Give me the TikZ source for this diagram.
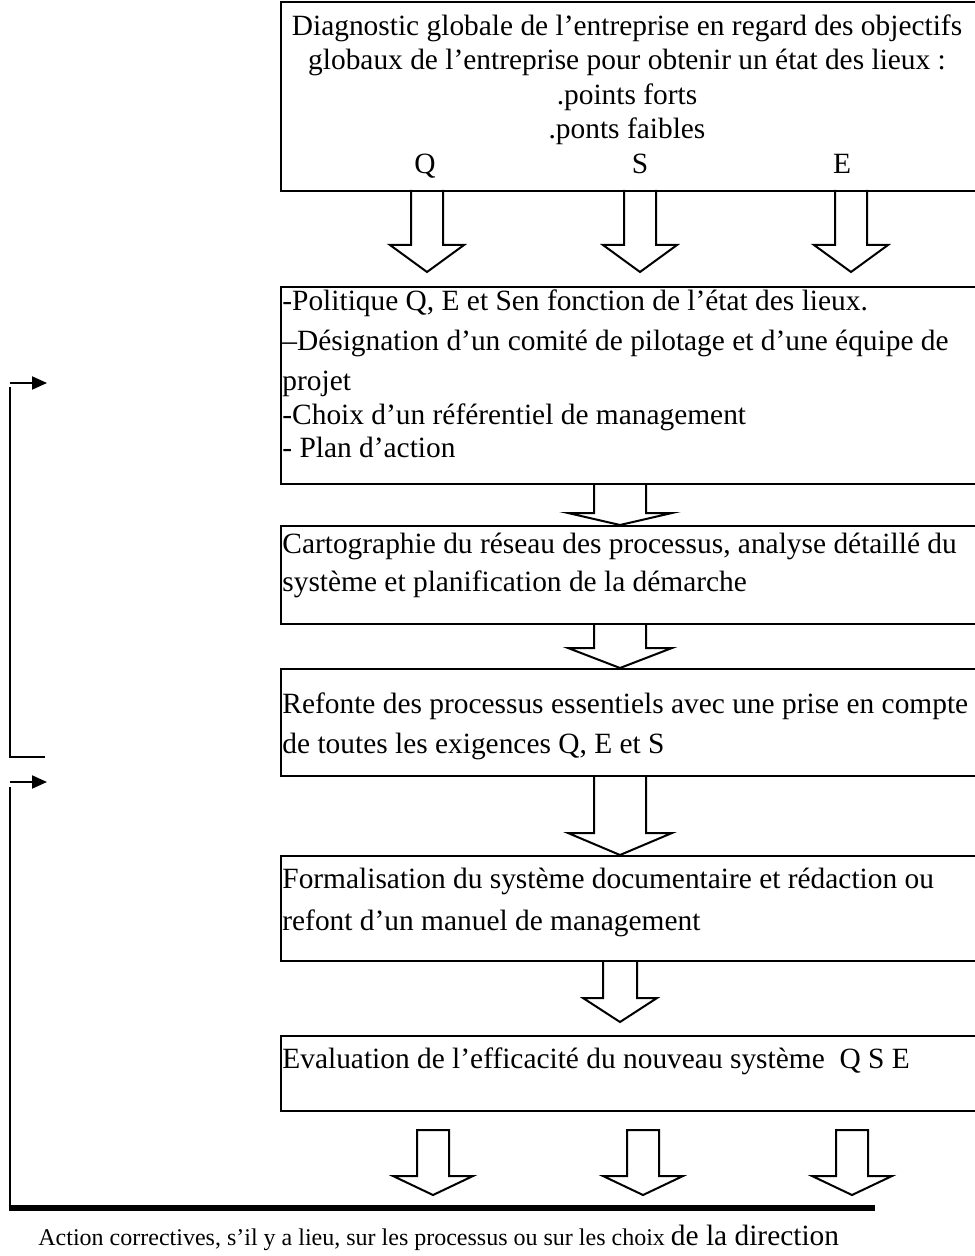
\documentclass[tikz,border=0pt]{standalone}
\usepackage{fontspec}
\setmainfont{Liberation Serif}
\usetikzlibrary{arrows.meta,calc}
\tikzset{
  boxnode/.style={draw, line width=1pt, rectangle, inner sep=0pt, anchor=north west},
  txt/.style={inner sep=0pt, font=\fontsize{14.7}{17}\selectfont},
  blk/.style={draw, line width=1pt, line join=miter},
  fb/.style={draw, line width=1pt},
  fbarrow/.style={fb, -{Triangle[length=7.5pt,width=6.5pt]}},
  thick bar/.style={draw, line width=2.6pt},
}
% open block arrow: #1 x centre, #2 top, #3 tip, #4 shaft half, #5 wing half, #6 head height
\newcommand{\openarrow}[6]{%
  \draw[blk] (#1-#4,#2) -- (#1-#4,#3-#6) -- (#1-#5,#3-#6) -- (#1,#3) -- (#1+#5,#3-#6) -- (#1+#4,#3-#6) -- (#1+#4,#2);}
\newcommand{\closedarrow}[6]{%
  \draw[blk] (#1-#4,#2) -- (#1-#4,#3-#6) -- (#1-#5,#3-#6) -- (#1,#3) -- (#1+#5,#3-#6) -- (#1+#4,#3-#6) -- (#1+#4,#2) -- cycle;}
\begin{document}
\begin{tikzpicture}[x=0.5pt,y=-0.5pt]
\useasboundingbox (0,0) rectangle (974,1256);
% boxes
\node[boxnode, minimum width=350pt, minimum height=94.5pt] (b1) at (280,1) {};
\node[boxnode, minimum width=350pt, minimum height=98.5pt] (b2) at (280,286) {};
\node[boxnode, minimum width=350pt, minimum height=49pt] (b3) at (280,525) {};
\node[boxnode, minimum width=350pt, minimum height=53.5pt] (b4) at (280,668) {};
\node[boxnode, minimum width=350pt, minimum height=52.5pt] (b5) at (280,855) {};
\node[boxnode, minimum width=350pt, minimum height=37.5pt] (b6) at (280,1035) {};
% box 1 text
\node[txt, anchor=base] (t11) at (627,36) {Diagnostic globale de l’entreprise en regard des objectifs};
\node[txt, anchor=base] (t12) at (627,70) {globaux de l’entreprise pour obtenir un état des lieux :};
\node[txt, anchor=base] (t13) at (627,105) {.points forts};
\node[txt, anchor=base] (t14) at (627,139) {.ponts faibles};
\node[txt, anchor=base] (tq) at (425,174) {Q};
\node[txt, anchor=base] (ts) at (640,174) {S};
\node[txt, anchor=base] (te) at (842,174) {E};
% box 2 text
\node[txt, anchor=base west] (t21) at (282,311) {-Politique Q, E et Sen fonction de l’état des lieux.};
\node[txt, anchor=base west] (t22) at (282,351) {–Désignation d’un comité de pilotage et d’une équipe de};
\node[txt, anchor=base west] (t23) at (282,391) {projet};
\node[txt, anchor=base west] (t24) at (282,424) {-Choix d’un référentiel de management};
\node[txt, anchor=base west] (t25) at (282,457) {- Plan d’action};
% box 3..6 text
\node[txt, anchor=base west] (t31) at (282,553) {Cartographie du réseau des processus, analyse détaillé du};
\node[txt, anchor=base west] (t32) at (282,591) {système et planification de la démarche};
\node[txt, anchor=base west] (t41) at (282,713) {Refonte des processus essentiels avec une prise en compte};
\node[txt, anchor=base west] (t42) at (282,753) {de toutes les exigences Q, E et S};
\node[txt, anchor=base west] (t51) at (282,888) {Formalisation du système documentaire et rédaction ou};
\node[txt, anchor=base west] (t52) at (282,930) {refont d’un manuel de management};
\node[txt, anchor=base west] (t61) at (282,1068) {Evaluation de l’efficacité du nouveau système\ \ Q S E};
% block arrows
\openarrow{427}{190}{272}{16}{37}{27}
\openarrow{640}{190}{272}{16}{37}{27}
\openarrow{851}{190}{272}{16}{37}{27}
\openarrow{620}{483}{525}{26}{52}{12}
\openarrow{620}{623}{668}{26}{52}{20}
\openarrow{620}{775}{855}{26}{52}{22}
\openarrow{620}{960}{1022}{17}{37}{24}
\closedarrow{433}{1130}{1195}{16}{40}{19}
\closedarrow{643}{1130}{1195}{16}{40}{19}
\closedarrow{852}{1130}{1195}{16}{40}{19}
% feedback lines
\coordinate (fa1) at (10,383);
\coordinate (fa1e) at (47,383);
\coordinate (fv1t) at (10,387);
\coordinate (fv1b) at (10,757);
\coordinate (fh1) at (45,757);
\draw[fbarrow] (fa1) -- (fa1e);
\draw[fb] (fv1t) -- (fv1b) -- (fh1);
\coordinate (fa2) at (10,782);
\coordinate (fa2e) at (47,782);
\coordinate (fv2t) at (10,787);
\coordinate (fv2b) at (10,1210);
\coordinate (barl) at (8.7,1208);
\coordinate (barr) at (875,1208);
\draw[fbarrow] (fa2) -- (fa2e);
\draw[fb] (fv2t) -- (fv2b);
\draw[thick bar] (barl) -- (barr);
% bottom text
\node[inner sep=0pt, anchor=base west] (bt) at (38,1245) {\fontsize{12}{14}\selectfont Action correctives, s’il y a lieu, sur les processus ou sur les choix \fontsize{14.7}{17}\selectfont de la direction};
\end{tikzpicture}
\end{document}
